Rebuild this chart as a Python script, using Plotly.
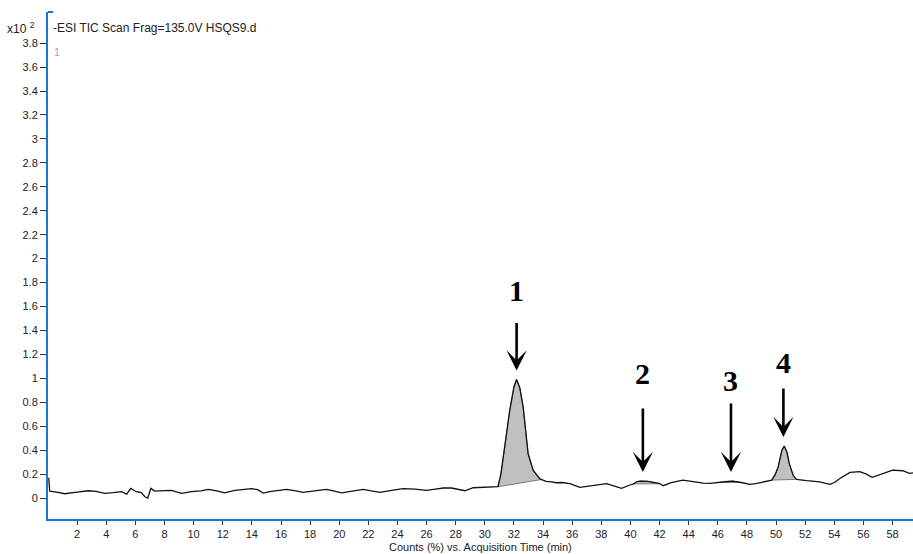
import plotly.graph_objects as go

# Total ion chromatogram (counts x10^2 vs. acquisition time, min)
time_min = [0.05, 0.12, 0.6, 1.15, 2.0, 2.75, 3.3, 3.9, 4.5, 5.05, 5.4, 5.69, 6.07, 6.4, 6.65, 6.85,
            7.06, 7.33, 8.0, 8.48, 9.17, 9.85, 10.5, 11.0, 11.6, 12.14, 12.83, 13.4, 13.98, 14.4,
            14.78, 15.23, 15.8, 16.38, 17.0, 17.52, 18.3, 19.13, 19.6, 20.16, 21.0, 21.64, 22.2,
            22.79, 23.6, 24.39, 25.2, 26.0, 26.6, 27.14, 27.71, 28.2, 28.63, 29.2, 29.9, 30.57,
            30.9, 31.1, 31.37, 31.71, 32.0, 32.18, 32.4, 32.63, 32.97, 33.32, 33.78, 33.9, 34.2,
            34.58, 34.92, 35.3, 35.84, 36.52, 37.21, 37.8, 38.36, 38.9, 39.39, 39.96, 40.2, 40.45,
            40.7, 41.2, 41.7, 42.0, 42.25, 42.8, 43.6, 44.1, 44.54, 45.0, 45.45, 45.9, 46.5, 47.0,
            47.6, 48.2, 48.6, 49.1, 49.7, 49.95, 50.14, 50.4, 50.56, 50.75, 50.9, 51.17, 51.4,
            52.1, 53.0, 53.7, 54.0, 54.38, 55.07, 55.75, 56.2, 56.6, 57.0, 57.35, 58.0, 58.7,
            59.16, 59.4]
counts = [0.17, 0.058, 0.05, 0.036, 0.05, 0.061, 0.055, 0.039, 0.045, 0.053, 0.033, 0.081, 0.053,
          0.045, 0.011, 0.0, 0.081, 0.058, 0.062, 0.064, 0.039, 0.053, 0.06, 0.073, 0.06, 0.044,
          0.064, 0.07, 0.078, 0.07, 0.042, 0.053, 0.06, 0.073, 0.06, 0.048, 0.06, 0.073, 0.06,
          0.044, 0.06, 0.073, 0.06, 0.048, 0.065, 0.078, 0.075, 0.064, 0.075, 0.084, 0.084, 0.07,
          0.061, 0.086, 0.09, 0.094, 0.095, 0.2, 0.43, 0.735, 0.93, 0.99, 0.92, 0.76, 0.37, 0.23,
          0.16, 0.155, 0.14, 0.136, 0.128, 0.13, 0.12, 0.089, 0.1, 0.11, 0.12, 0.1, 0.081, 0.109,
          0.118, 0.138, 0.142, 0.14, 0.13, 0.12, 0.103, 0.128, 0.15, 0.14, 0.134, 0.125, 0.123,
          0.13, 0.14, 0.142, 0.13, 0.114, 0.12, 0.136, 0.15, 0.2, 0.26, 0.4, 0.434, 0.38, 0.29,
          0.19, 0.156, 0.145, 0.136, 0.114, 0.13, 0.164, 0.214, 0.22, 0.2, 0.173, 0.19, 0.21,
          0.234, 0.228, 0.206, 0.21]

# Integrated peaks: label, start, apex, end (min)
peak_labels = ["1", "2", "3", "4"]
peak_start = [30.9, 40.2, 45.9, 49.7]
peak_apex = [32.18, 40.85, 46.9, 50.5]
peak_end = [33.9, 42.0, 47.6, 51.4]

x_ticks = list(range(2, 60, 2))
y_ticks = [round(0.2 * i, 1) for i in range(20)]
y_tick_text = [("%g" % v) for v in y_ticks]

X_RANGE = [0, 59.4]
Y_RANGE = [-0.175, 4.06]
BLUE = "#1976d6"
TICK_FONT = dict(family="Liberation Sans, Arial, sans-serif", size=11, color="#222222")

fig = go.Figure()

# shaded peak areas, closed along a straight baseline from start to end
for s, e in zip(peak_start, peak_end):
    seg = [(t, c) for t, c in zip(time_min, counts) if s <= t <= e]
    xs = [p[0] for p in seg]
    ys = [p[1] for p in seg]
    fig.add_trace(go.Scatter(
        x=xs + [xs[-1], xs[0]], y=ys + [ys[-1], ys[0]],
        fill="toself", fillcolor="#c0c0c0", mode="lines",
        line=dict(color="#7a7a7a", width=1), hoverinfo="skip", showlegend=False))

fig.add_trace(go.Scatter(x=time_min, y=counts, mode="lines",
                         line=dict(color="#111111", width=1.3), showlegend=False))


def apex_height(t0):
    return max(c for t, c in zip(time_min, counts) if abs(t - t0) < 0.4)


# arrows and numbers above each peak
arrow_len = [58, 74, 79, 59]
label_shift = [89, 108, 101, 84]
annotations = []
for lab, t0, al, ls in zip(peak_labels, peak_apex, arrow_len, label_shift):
    h = apex_height(t0)
    annotations.append(dict(x=t0, y=h, xref="x", yref="y", text="", showarrow=True,
                            ax=0, ay=-al, standoff=9, arrowhead=3, arrowsize=1.3,
                            arrowwidth=2.6, arrowcolor="#000000"))
    annotations.append(dict(x=t0, y=h, xref="x", yref="y", text="<b>%s</b>" % lab,
                            showarrow=False, yshift=ls, yanchor="middle",
                            font=dict(family="Liberation Serif, Times New Roman, serif",
                                      size=30, color="#000000")))

annotations += [
    dict(x=0, y=1, xref="paper", yref="paper", text="x10 <sup>2</sup>", showarrow=False,
         xanchor="center", yanchor="middle", xshift=-27, yshift=-16,
         font=dict(family="Liberation Sans, Arial, sans-serif", size=12, color="#222222")),
    dict(x=0, y=1, xref="paper", yref="paper", text="-ESI TIC Scan Frag=135.0V HSQS9.d",
         showarrow=False, xanchor="left", yanchor="middle", xshift=3, yshift=-16,
         font=dict(family="Liberation Sans, Arial, sans-serif", size=12, color="#222222")),
    dict(x=0, y=1, xref="paper", yref="paper", text="1", showarrow=False,
         xanchor="left", yanchor="middle", xshift=4, yshift=-40,
         font=dict(family="Liberation Sans, Arial, sans-serif", size=11, color="#c49aa4")),
    dict(x=0.5, y=0, xref="paper", yref="paper", text="Counts (%) vs. Acquisition Time (min)",
         showarrow=False, xanchor="center", yanchor="top", yshift=-20,
         font=dict(family="Liberation Sans, Arial, sans-serif", size=11, color="#222222")),
]

shapes = [
    # black y axis line just outside the blue frame
    dict(type="line", xref="x", yref="y", xsizemode="pixel", xanchor=0, x0=-3, x1=-3,
         y0=-0.11, y1=Y_RANGE[1], line=dict(color="#333333", width=1)),
    # small hook at the top of the frame
    dict(type="line", xref="paper", yref="paper", x0=0, x1=0.006, y0=1, y1=1,
         line=dict(color=BLUE, width=2)),
]

fig.update_layout(
    width=913, height=554,
    margin=dict(l=48, r=0, t=12, b=35),
    paper_bgcolor="white", plot_bgcolor="white",
    showlegend=False,
    annotations=annotations,
    shapes=shapes,
    xaxis=dict(range=X_RANGE, tickvals=x_ticks, ticktext=[str(v) for v in x_ticks],
               showgrid=False, zeroline=False, showline=True, linecolor=BLUE, linewidth=2,
               ticks="outside", ticklen=4, tickcolor="#333333", tickfont=TICK_FONT),
    yaxis=dict(range=Y_RANGE, tickvals=y_ticks, ticktext=y_tick_text,
               showgrid=False, zeroline=False, showline=True, linecolor=BLUE, linewidth=2,
               ticks="outside", ticklen=6, tickcolor="#333333", tickfont=TICK_FONT),
)

fig.write_html("out.html")
